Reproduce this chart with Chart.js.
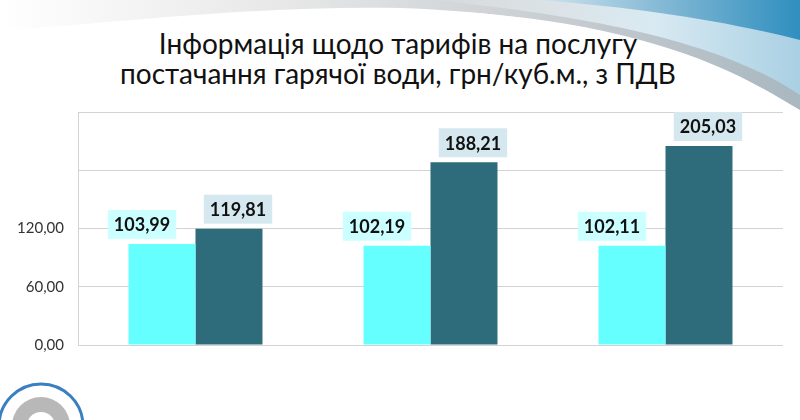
<!DOCTYPE html>
<html>
<head>
<meta charset="utf-8">
<script src="https://cdn.jsdelivr.net/npm/chart.js@4"></script>
<style>
html,body{margin:0;padding:0;background:#fff;}
#wrap{position:relative;width:800px;height:420px;overflow:hidden;background:#fff;}
#bg{position:absolute;left:0;top:0;}
#title{position:absolute;left:0;top:28px;width:796px;text-align:center;font-family:Lato,"Open Sans",sans-serif;font-size:28px;line-height:30px;color:#111;}
#c{position:absolute;left:0;top:0;}
</style>
</head>
<body>
<div id="wrap">
<svg id="bg" width="800" height="420" viewBox="0 0 800 420">
  <defs>
    <linearGradient id="gray" x1="0" y1="0" x2="1" y2="0">
      <stop offset="0" stop-color="#ffffff"/>
      <stop offset="0.35" stop-color="#d8d8d8"/>
      <stop offset="0.75" stop-color="#9aa5ad"/>
      <stop offset="1" stop-color="#6f8796"/>
    </linearGradient>
    <linearGradient id="blue" x1="0" y1="0" x2="1" y2="0">
      <stop offset="0" stop-color="#cfe3ee"/>
      <stop offset="0.5" stop-color="#7fb6d3"/>
      <stop offset="1" stop-color="#2f8fbf"/>
    </linearGradient>
    <linearGradient id="light" x1="0" y1="0" x2="1" y2="0">
      <stop offset="0" stop-color="#ffffff" stop-opacity="0"/>
      <stop offset="0.6" stop-color="#d9eaf2"/>
      <stop offset="1" stop-color="#a9d0e3"/>
    </linearGradient>
  </defs>
  <path d="M0,0 L800,0 L800,110 C720,60 600,15 400,8 C250,5 100,25 0,30 Z" fill="url(#gray)" opacity="0.6"/>
  <path d="M430,0 L800,0 L800,95 C740,55 640,20 430,0 Z" fill="url(#light)"/>
  <path d="M540,0 L800,0 L800,40 C720,20 640,8 540,0 Z" fill="url(#blue)"/>
  <path d="M0,32 C120,22 260,6 420,10 C600,16 720,55 800,112 L800,120 C720,65 600,24 420,18 C260,14 120,30 0,40 Z" fill="#ffffff"/>
  <g transform="translate(41,426)">
    <circle r="42" fill="#ffffff" stroke="#3a7fc0" stroke-width="3"/>
    <circle r="29" fill="#b8b8b8"/>
    <circle r="14" fill="#ffffff"/>
  </g>
</svg>
<div id="title">Інформація щодо тарифів на послугу<br>постачання гарячої води, грн/куб.м., з ПДВ</div>
<canvas id="c" width="800" height="420"></canvas>
</div>
<script>
const categories = ["2019", "2020", "2021"];
const seriesA = [103.99, 102.19, 102.11];
const seriesB = [119.81, 188.21, 205.03];
const yTicks = [0, 60, 120];

const colorsA = "#66FFFF";
const colorsB = "#2E6B7B";

const labelPlugin = {
  id: 'valueLabels',
  afterDatasetsDraw(chart) {
    const ctx = chart.ctx;
    const cfg = [
      {bg: "#CCFFFF", dx: -20},
      {bg: "#D5E8EF", dx: 9}
    ];
    ctx.save();
    ctx.font = "bold 18px Lato, 'Open Sans', sans-serif";
    ctx.textAlign = "center";
    ctx.textBaseline = "middle";
    chart.data.datasets.forEach((ds, di) => {
      const meta = chart.getDatasetMeta(di);
      meta.data.forEach((bar, i) => {
        const txt = ds.data[i].toFixed(2).replace('.', ',');
        const w = ctx.measureText(txt).width + 12;
        const h = 29;
        const cx = bar.x + cfg[di].dx;
        const bottom = bar.y - 5;
        ctx.fillStyle = cfg[di].bg;
        ctx.fillRect(cx - w/2, bottom - h, w, h);
        ctx.fillStyle = "#111";
        ctx.fillText(txt, cx, bottom - h/2 + 1);
      });
    });
    ctx.restore();
  }
};

new Chart(document.getElementById('c'), {
  type: 'bar',
  data: {
    labels: categories,
    datasets: [
      {data: seriesA, backgroundColor: colorsA, borderWidth: 0},
      {data: seriesB, backgroundColor: colorsB, borderWidth: 0}
    ]
  },
  options: {
    responsive: false,
    animation: false,
    devicePixelRatio: 1,
    layout: {padding: {top: 112, right: 17, bottom: 75, left: 0}},
    plugins: {legend: {display: false}, tooltip: {enabled: false}, title: {display: false}},
    datasets: {bar: {categoryPercentage: 0.57, barPercentage: 1}},
    scales: {
      x: {display: false},
      y: {
        min: 0, max: 240,
        afterFit(scale) { scale.width = 78; },
        ticks: {
          stepSize: 60,
          padding: 14,
          color: "#333",
          font: {family: "Lato, 'Open Sans', sans-serif", size: 15},
          callback: (v) => yTicks.includes(v) ? v.toFixed(2).replace('.', ',') : ''
        },
        grid: {color: "#d3d3d3", drawTicks: false, lineWidth: 1},
        border: {display: true, color: "#d3d3d3"}
      }
    }
  },
  plugins: [labelPlugin]
});
</script>
</body>
</html>
